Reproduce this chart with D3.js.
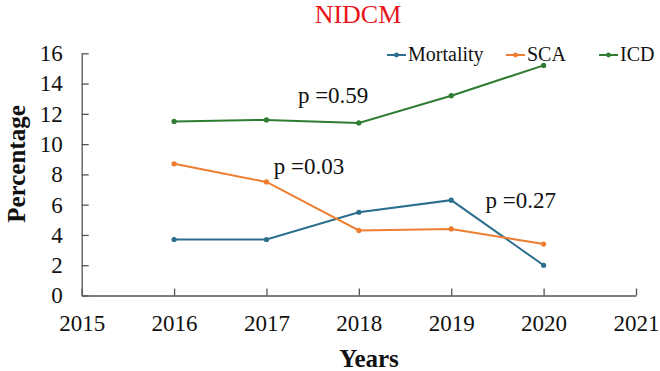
<!DOCTYPE html>
<html>
<head>
<meta charset="utf-8">
<script src="https://cdn.jsdelivr.net/npm/d3@7"></script>
<style>
  body { margin: 0; background: #fff; }
</style>
</head>
<body>
<script>
// data
var years = [2016, 2017, 2018, 2019, 2020];
var mortality = [3.7, 3.7, 5.5, 6.3, 2.0];
var sca = [8.7, 7.5, 4.3, 4.4, 3.4];
var icd = [11.5, 11.6, 11.4, 13.2, 15.2];
var seriesNames = ["Mortality", "SCA", "ICD"];
var seriesColors = ["#2b6e8e", "#ed7d31", "#2f7d32"];
var xTicks = [2015, 2016, 2017, 2018, 2019, 2020, 2021];
var yTicks = [0, 2, 4, 6, 8, 10, 12, 14, 16];
var pLabels = [
  { text: "p =0.59", year: 2017.34, value: 12.7 },
  { text: "p =0.03", year: 2017.08, value: 8.0 },
  { text: "p =0.27", year: 2019.37, value: 5.8 }
];

var W = 660, H = 371;
var SERIF = "Liberation Serif";

var svg = d3.select("body").append("svg")
    .attr("width", W)
    .attr("height", H)
    .attr("font-family", SERIF);

var x = d3.scaleLinear().domain([2015, 2021]).range([81.7, 636]);
var y = d3.scaleLinear().domain([0, 16]).range([295.5, 53.3]);

// title
svg.append("text")
    .attr("x", 358)
    .attr("y", 23)
    .attr("text-anchor", "middle")
    .attr("font-family", SERIF)
    .attr("font-size", 26)
    .attr("fill", "#e8161b")
    .text("NIDCM");

// y axis
var yAxis = svg.append("g")
    .attr("transform", "translate(" + x(2015) + ",0)")
    .call(d3.axisLeft(y).tickValues(yTicks).tickSizeInner(-7).tickSizeOuter(0).tickPadding(19));

// x axis
var xAxis = svg.append("g")
    .attr("transform", "translate(0," + y(0) + ")")
    .call(d3.axisBottom(x).tickValues(xTicks).tickFormat(d3.format("d"))
        .tickSizeInner(-7).tickSizeOuter(0).tickPadding(19));

[yAxis, xAxis].forEach(function (g) {
    g.attr("font-family", SERIF).attr("font-size", 23);
    g.select(".domain").attr("stroke", "#555").attr("stroke-width", 1.3);
    g.selectAll(".tick line").attr("stroke", "#555").attr("stroke-width", 1.3);
    g.selectAll(".tick text")
        .attr("font-family", SERIF)
        .attr("font-size", 23)
        .attr("fill", "#111");
});

// axis titles
svg.append("text")
    .attr("transform", "translate(25,164) rotate(-90)")
    .attr("text-anchor", "middle")
    .attr("font-family", SERIF)
    .attr("font-size", 25)
    .attr("font-weight", "bold")
    .attr("fill", "#111")
    .text("Percentage");

svg.append("text")
    .attr("x", 369)
    .attr("y", 367)
    .attr("text-anchor", "middle")
    .attr("font-family", SERIF)
    .attr("font-size", 25)
    .attr("font-weight", "bold")
    .attr("fill", "#111")
    .text("Years");

// lines
var allSeries = [mortality, sca, icd];
var line = d3.line()
    .x(function (d, i) { return x(years[i]); })
    .y(function (d) { return y(d); });

allSeries.forEach(function (vals, s) {
    svg.append("path")
        .datum(vals)
        .attr("fill", "none")
        .attr("stroke", seriesColors[s])
        .attr("stroke-width", 2)
        .attr("d", line);
    svg.append("g").selectAll("circle")
        .data(vals)
        .enter().append("circle")
        .attr("cx", function (d, i) { return x(years[i]); })
        .attr("cy", function (d) { return y(d); })
        .attr("r", 2.6)
        .attr("fill", seriesColors[s]);
});

// p values
svg.append("g").selectAll("text")
    .data(pLabels)
    .enter().append("text")
    .attr("x", function (d) { return x(d.year); })
    .attr("y", function (d) { return y(d.value); })
    .attr("font-family", SERIF)
    .attr("font-size", 23)
    .attr("fill", "#111")
    .text(function (d) { return d.text; });

// legend
var legendX = [387, 506, 599];
var legend = svg.append("g").attr("transform", "translate(0,55)");
seriesNames.forEach(function (name, i) {
    var g = legend.append("g").attr("transform", "translate(" + legendX[i] + ",0)");
    g.append("line")
        .attr("x1", 0).attr("x2", 19)
        .attr("stroke", seriesColors[i])
        .attr("stroke-width", 2);
    g.append("circle")
        .attr("cx", 9.5).attr("r", 2.4)
        .attr("fill", seriesColors[i]);
    g.append("text")
        .attr("x", 21)
        .attr("dy", "0.32em")
        .attr("font-family", SERIF)
        .attr("font-size", 20)
        .attr("fill", "#111")
        .text(name);
});
</script>
</body>
</html>
